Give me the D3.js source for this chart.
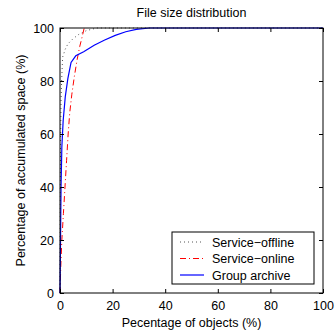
<!DOCTYPE html>
<html><head><meta charset="utf-8">
<script src="https://cdn.jsdelivr.net/npm/d3@7"></script>
<style>body{margin:0;background:#fff}svg{display:block}text{font-family:"Liberation Sans",Arial,sans-serif}</style>
</head><body>
<script>
const seriesNames = ["Service\u2212offline","Service\u2212online","Group archive"];
const offlineX = [0,0.1,0.2,0.4,0.7,1,2,3,5,7,10,14,100];
const offlineY = [0,30,55,73,82,89,92,94,96,97.5,99,100,100];
const onlineX = [0,0.3,0.7,1.3,1.9,2.5,3.1,3.7,4.5,5.5,6.5,7.5,8.5,9.2];
const onlineY = [0,10,20,30,40,50,60,68,75,82,88,93,97,100];
const archiveX = [0,0.2,0.4,0.7,1.2,2,3,4.2,6,9,13,17,21,25,29,34,100];
const archiveY = [0,20,40,55,65,74,81,87,89.5,91,93.5,95.5,97.2,98.6,99.5,100,100];
const xTicks = [0,20,40,60,80,100];
const yTicks = [0,20,40,60,80,100];

const W=336,H=333, L=60,R=323,T=28,B=293, FS=12.5;
const svg=d3.select("body").append("svg").attr("width",W).attr("height",H);
const x=d3.scaleLinear().domain([0,100]).range([L,R]);
const y=d3.scaleLinear().domain([0,100]).range([B,T]);

const styles=[
  {color:"#555",dash:"1,3",w:1},
  {color:"#ff0000",dash:"6,3,1,3",w:1},
  {color:"#0000ff",dash:null,w:1.2}
];
const data=[
  offlineX.map((v,i)=>[v,offlineY[i]]),
  onlineX.map((v,i)=>[v,onlineY[i]]),
  archiveX.map((v,i)=>[v,archiveY[i]])
];
const line=d3.line().x(d=>x(d[0])).y(d=>y(d[1]));
data.forEach((d,i)=>{
  svg.append("path").datum(d).attr("d",line).attr("fill","none")
    .attr("stroke",styles[i].color).attr("stroke-width",styles[i].w)
    .attr("stroke-dasharray",styles[i].dash);
});

const gx=svg.append("g").attr("transform",`translate(0,${B})`)
  .call(d3.axisBottom(x).tickValues(xTicks).tickSize(-4).tickPadding(8));
const gxt=svg.append("g").attr("transform",`translate(0,${T})`)
  .call(d3.axisTop(x).tickValues(xTicks).tickSize(-4).tickFormat(""));
const gy=svg.append("g").attr("transform",`translate(${L},0)`)
  .call(d3.axisLeft(y).tickValues(yTicks).tickSize(-4).tickPadding(6));
const gyr=svg.append("g").attr("transform",`translate(${R},0)`)
  .call(d3.axisRight(y).tickValues(yTicks).tickSize(-4).tickFormat(""));
[gx,gxt,gy,gyr].forEach(g=>{
  g.select(".domain").remove();
  g.selectAll("line").attr("stroke","#000");
  g.selectAll("text").attr("font-size",FS).attr("fill","#000").style("font-family","Liberation Sans, Arial, sans-serif");
});
svg.append("rect").attr("x",L).attr("y",T).attr("width",R-L).attr("height",B-T)
  .attr("fill","none").attr("stroke","#000").attr("stroke-width",1);

svg.append("text").attr("x",(L+R)/2).attr("y",17).attr("text-anchor","middle")
  .attr("font-size",FS).text("File size distribution");
svg.append("text").attr("x",(L+R)/2).attr("y",327).attr("text-anchor","middle")
  .attr("font-size",FS).text("Pecentage of objects (%)");
svg.append("text").attr("transform",`translate(25,${(T+B)/2}) rotate(-90)`).attr("text-anchor","middle")
  .attr("font-size",FS).text("Percentage of accumulated space (%)");

const lg=svg.append("g");
lg.append("rect").attr("x",172).attr("y",232).attr("width",142).attr("height",52)
  .attr("fill","#fff").attr("stroke","#000").attr("stroke-width",1);
seriesNames.forEach((n,i)=>{
  const yy=242+i*16.5;
  lg.append("line").attr("x1",180).attr("x2",204).attr("y1",yy).attr("y2",yy)
    .attr("stroke",styles[i].color).attr("stroke-width",styles[i].w).attr("stroke-dasharray",styles[i].dash);
  lg.append("text").attr("x",212).attr("y",yy+4.5).attr("font-size",FS).text(n);
});
</script>
</body></html>
